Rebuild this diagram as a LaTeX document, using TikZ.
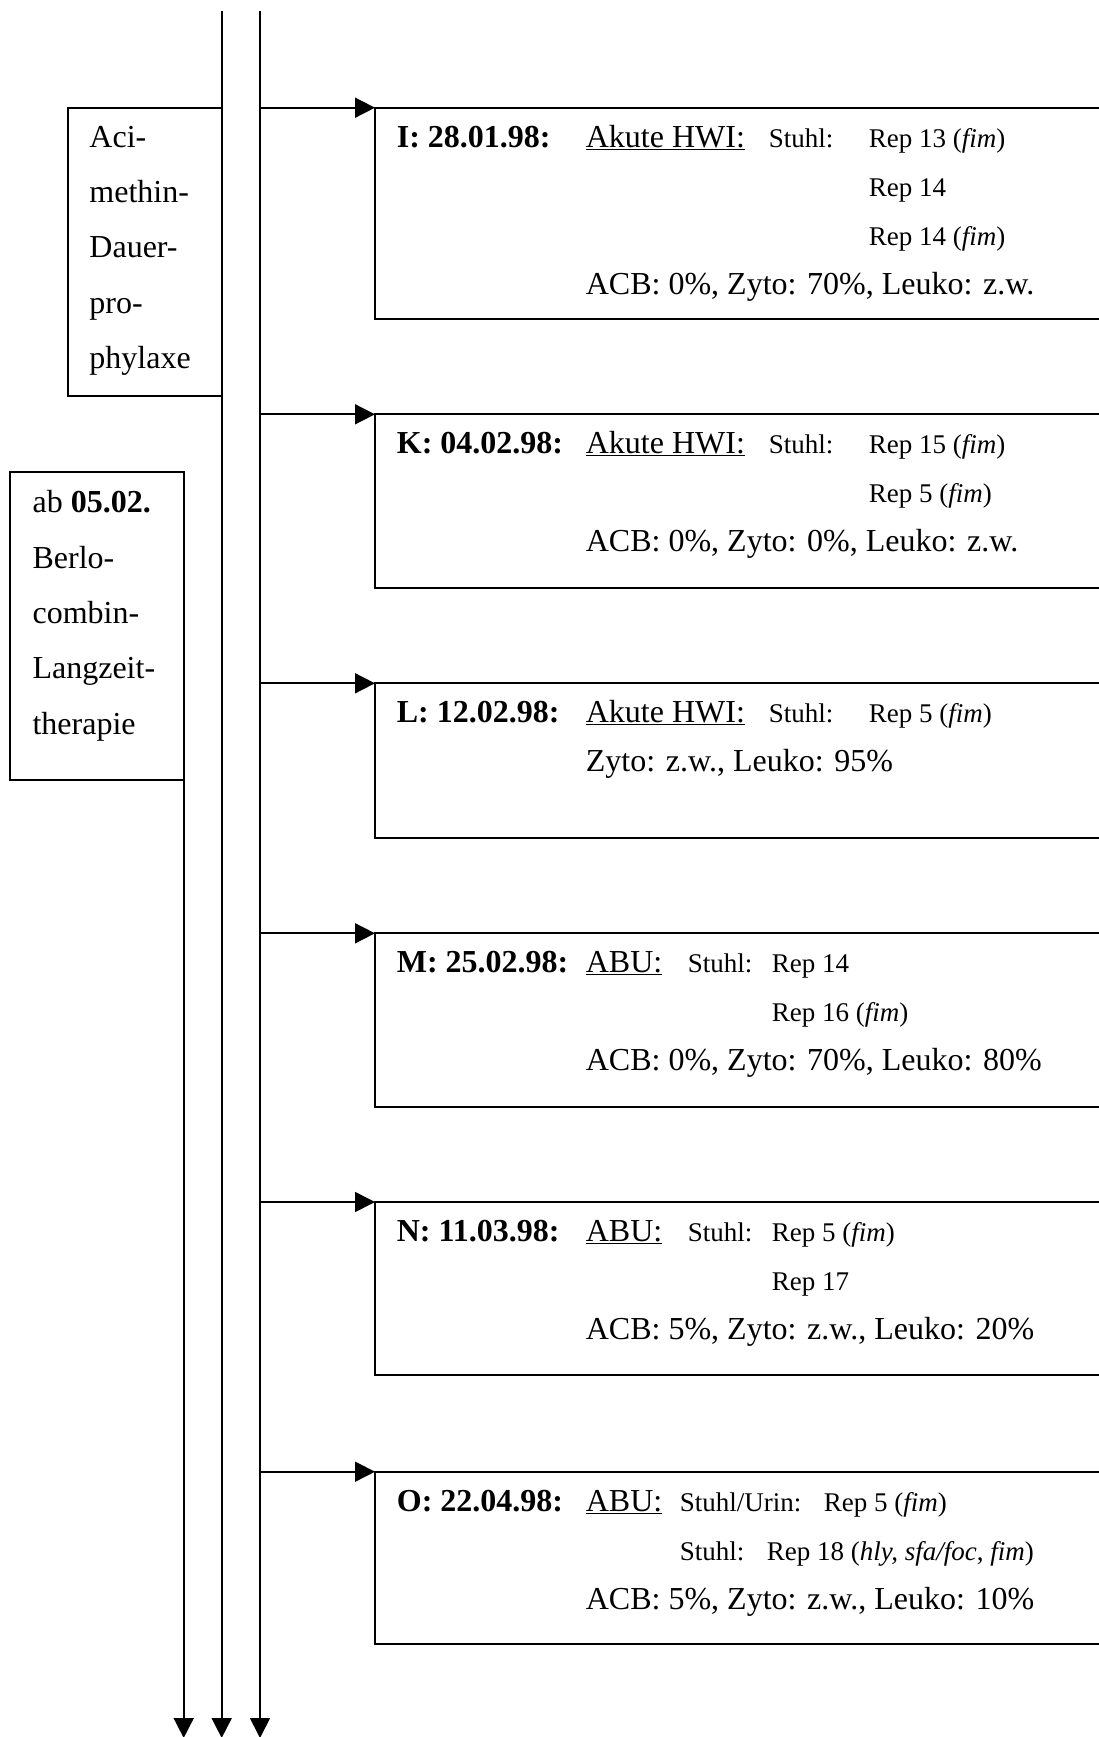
\documentclass[tikz,border=0pt]{standalone}
\usepackage{fontspec}
\setmainfont{Liberation Serif}
\usetikzlibrary{arrows.meta}

\begin{document}
\begin{tikzpicture}[x=1pt, y=-1pt, line width=1.7pt,
  big/.style={font=\fontsize{32}{38}\selectfont, inner sep=0pt, anchor=base west},
  small/.style={font=\fontsize{27}{32}\selectfont, inner sep=0pt, anchor=base west},
  stack/.style={font=\fontsize{32}{55.3}\selectfont, inner sep=0pt, anchor=north west, align=left},
  frame/.style={draw, inner sep=0pt, outer sep=0pt, anchor=north west},
  befund/.style={frame, minimum width=760},
  pfeil/.style={-{Triangle[length=20pt, width=20pt]}}]
  \useasboundingbox (0,0) rectangle (1099,1737);
  \clip (0,0) rectangle (1099,1737);

  % ---- time axes ----
  \coordinate (achseA) at (221.7,11);
  \coordinate (achseB) at (260,11);
  \coordinate (ende) at (0,1738);

  % ---- therapies on the left ----
  \node[frame, minimum width=153.7, minimum height=288.3] (prophylaxe) at (68,107.7) {};
  \node[stack] (prophylaxeText) at (88.6,125.2)
    {Aci-\\methin-\\Dauer-\\pro-\\phylaxe};
  \node[frame, minimum width=173.4, minimum height=307.7] (langzeit) at (10.3,472.3) {};
  \node[stack] (langzeitText) at (31.7,489.8)
    {ab \textbf{05.02.}\\Berlo-\\combin-\\Langzeit-\\therapie};

  \draw[pfeil] (langzeit.south east) -- (langzeit.south east |- ende);
  \draw[pfeil] (achseA) -- (achseA |- ende);
  \draw[pfeil] (achseB) -- (achseB |- ende);

  % ---- I ----
  \node[befund, minimum height=211] (befundI) at (375,107.7) {};
  \draw[pfeil] (befundI.north west -| achseB) -- (befundI.north west);
  \node[big] (datumI) at (396,147.2) {\textbf{I: 28.01.98:}};
  \node[big] (diagI) at (585,147.2) {\underline{Akute HWI:}};
  \node[small] (probeI) at (768,147.2) {Stuhl:};
  \node[small] (repIa) at (868,147.2) {Rep 13 (\textit{fim})};
  \node[small] (repIb) at (868,196.2) {Rep 14};
  \node[small] (repIc) at (868,245.2) {Rep 14 (\textit{fim})};
  \node[big] (wertI) at (585,294.2) {ACB: 0\%, Zyto: 70\%, Leuko: z.w.};

  % ---- K ----
  \node[befund, minimum height=174] (befundK) at (375,414.3) {};
  \draw[pfeil] (befundK.north west -| achseB) -- (befundK.north west);
  \node[big] (datumK) at (396,453.8) {\textbf{K: 04.02.98:}};
  \node[big] (diagK) at (585,453.8) {\underline{Akute HWI:}};
  \node[small] (probeK) at (768,453.8) {Stuhl:};
  \node[small] (repKa) at (868,453.8) {Rep 15 (\textit{fim})};
  \node[small] (repKb) at (868,502.8) {Rep 5 (\textit{fim})};
  \node[big] (wertK) at (585,551.8) {ACB: 0\%, Zyto: 0\%, Leuko: z.w.};

  % ---- L ----
  \node[befund, minimum height=155] (befundL) at (375,683.3) {};
  \draw[pfeil] (befundL.north west -| achseB) -- (befundL.north west);
  \node[big] (datumL) at (396,722.8) {\textbf{L: 12.02.98:}};
  \node[big] (diagL) at (585,722.8) {\underline{Akute HWI:}};
  \node[small] (probeL) at (768,722.8) {Stuhl:};
  \node[small] (repLa) at (868,722.8) {Rep 5 (\textit{fim})};
  \node[big] (wertL) at (585,771.8) {Zyto: z.w., Leuko: 95\%};

  % ---- M ----
  \node[befund, minimum height=173.4] (befundM) at (375,933.3) {};
  \draw[pfeil] (befundM.north west -| achseB) -- (befundM.north west);
  \node[big] (datumM) at (396,972.8) {\textbf{M: 25.02.98:}};
  \node[big] (diagM) at (585,972.8) {\underline{ABU:}};
  \node[small] (probeM) at (687,972.8) {Stuhl:};
  \node[small] (repMa) at (771,972.8) {Rep 14};
  \node[small] (repMb) at (771,1021.8) {Rep 16 (\textit{fim})};
  \node[big] (wertM) at (585,1070.8) {ACB: 0\%, Zyto: 70\%, Leuko: 80\%};

  % ---- N ----
  \node[befund, minimum height=173] (befundN) at (375,1202) {};
  \draw[pfeil] (befundN.north west -| achseB) -- (befundN.north west);
  \node[big] (datumN) at (396,1241.5) {\textbf{N: 11.03.98:}};
  \node[big] (diagN) at (585,1241.5) {\underline{ABU:}};
  \node[small] (probeN) at (687,1241.5) {Stuhl:};
  \node[small] (repNa) at (771,1241.5) {Rep 5 (\textit{fim})};
  \node[small] (repNb) at (771,1290.5) {Rep 17};
  \node[big] (wertN) at (585,1339.5) {ACB: 5\%, Zyto: z.w., Leuko: 20\%};

  % ---- O ----
  \node[befund, minimum height=172.3] (befundO) at (375,1471.7) {};
  \draw[pfeil] (befundO.north west -| achseB) -- (befundO.north west);
  \node[big] (datumO) at (396,1511.2) {\textbf{O: 22.04.98:}};
  \node[big] (diagO) at (585,1511.2) {\underline{ABU:}};
  \node[small] (probeOa) at (679,1511.2) {Stuhl/Urin:};
  \node[small] (repOa) at (823,1511.2) {Rep 5 (\textit{fim})};
  \node[small] (probeOb) at (679,1560.2) {Stuhl:};
  \node[small] (repOb) at (766,1560.2) {Rep 18 (\textit{hly, sfa/foc}, \textit{fim})};
  \node[big] (wertO) at (585,1609.2) {ACB: 5\%, Zyto: z.w., Leuko: 10\%};
\end{tikzpicture}
\end{document}
